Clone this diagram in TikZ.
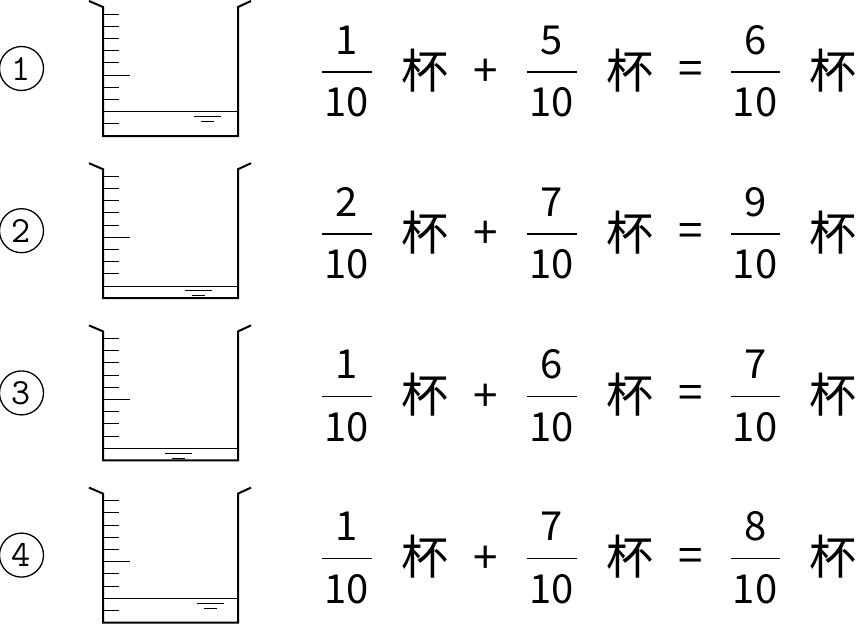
\documentclass[tikz,border=0pt]{standalone}
\usepackage{fontspec}
\newfontfamily\cjk{Noto Sans CJK SC}
\tikzset{
  wall/.style={line width=2pt, line join=miter},
  tick/.style={line width=1pt},
  fracbar/.style={line width=1.7pt},
  numtext/.style={inner sep=0pt, font=\cjk\fontsize{40}{40}\selectfont},
  optext/.style={inner sep=0pt, font=\cjk\fontsize{44}{44}\selectfont},
  cuptext/.style={inner sep=0pt, font=\cjk\fontsize{47}{47}\selectfont},
  circnum/.style={circle, draw, line width=1.3pt, minimum size=44pt, inner sep=0pt,
    font=\ttfamily\fontsize{37}{37}\selectfont},
}

\begin{document}
\begin{tikzpicture}[x=1pt,y=-1pt]
  \useasboundingbox (0,0) rectangle (856,624);

  \foreach \r/\lvl/\mx/\na/\nb/\nc in {1/2/194/1/5/6, 2/1/185/2/7/9, 3/1/165/1/6/7, 4/2/197/1/7/8} {
    \pgfmathsetmacro{\B}{136+(\r-1)*162.2}
    \pgfmathsetmacro{\W}{\B-\lvl*12.2}

    % number in a circle
    \node [circnum] (circ\r) at (21.5,\B-67.5) {\r};

    % beaker
    \draw [wall] (89,\B-135) -- (103,\B-129) -- (103,\B) -- (238,\B) -- (238,\B-129) -- (251,\B-135);
    \foreach \k in {1,...,10} {
      \pgfmathsetmacro{\len}{\k==5 ? 27 : 16}
      \draw [tick] (103,\B-\k*12.2) -- (103+\len,\B-\k*12.2);
    }

    % water
    \draw [tick] (103,\W) -- (238,\W);
    \draw [line width=0.8pt] (\mx,\W+4.7) -- (\mx+27,\W+4.7);
    \draw [line width=0.8pt] (\mx+7,\W+9.7) -- (\mx+20,\W+9.7);

    % sum
    \node [numtext] (numa\r) at (347,\B-96) {\na};
    \node [numtext] (dena\r) at (346.5,\B-33.5) {10};
    \draw [fracbar] (322,\B-64) -- (372,\B-64);
    \node [cuptext] (cupa\r) at (425,\B-65.5) {杯};
    \node [optext] (plus\r) at (486,\B-63) {+};
    \node [numtext] (numb\r) at (552,\B-96) {\nb};
    \node [numtext] (denb\r) at (551.5,\B-33.5) {10};
    \draw [fracbar] (527,\B-64) -- (577,\B-64);
    \node [cuptext] (cupb\r) at (629.5,\B-65.5) {杯};
    \node [optext] (eq\r) at (691,\B-63) {=};
    \node [numtext] (numc\r) at (755.5,\B-96) {\nc};
    \node [numtext] (denc\r) at (755,\B-33.5) {10};
    \draw [fracbar] (731,\B-64) -- (780,\B-64);
    \node [cuptext] (cupc\r) at (833,\B-65.5) {杯};
  }
\end{tikzpicture}
\end{document}
